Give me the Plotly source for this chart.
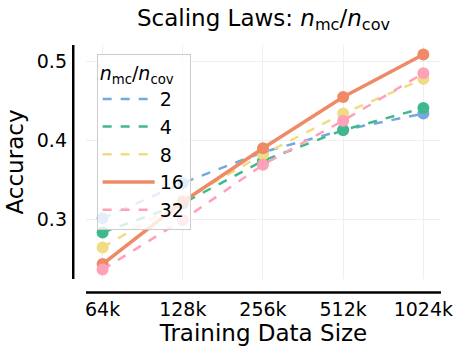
import plotly.graph_objects as go

sizes = ["64k", "128k", "256k", "512k", "1024k"]
ratios = ["2", "4", "8", "16", "32"]
acc_2 = [0.301, 0.346, 0.385, 0.413, 0.434]
acc_4 = [0.283, 0.320, 0.374, 0.413, 0.441]
acc_8 = [0.264, 0.324, 0.382, 0.434, 0.478]
acc_16 = [0.243, 0.322, 0.390, 0.455, 0.509]
acc_32 = [0.236, 0.299, 0.369, 0.425, 0.485]
series = [acc_2, acc_4, acc_8, acc_16, acc_32]
colors = ["#74a9e0", "#3fb98b", "#f0dc82", "#ef8a66", "#ffa2b8"]

fig = go.Figure()
xs = list(range(len(sizes)))
for name, ys, c in zip(ratios, series, colors):
    solid = name == "16"
    line = dict(color=c, width=3.5 if solid else 2.5, dash="solid" if solid else "dash")
    fig.add_trace(go.Scatter(
        x=xs, y=ys, name=name, mode="lines+markers", showlegend=False,
        line=line, marker=dict(color=c, size=12),
    ))
    fig.add_trace(go.Scatter(
        x=[None], y=[None], name=name, mode="lines", line=line, showlegend=True,
    ))

fig.update_layout(
    width=465, height=350,
    margin=dict(l=86, r=15, t=45, b=67),
    paper_bgcolor="white", plot_bgcolor="white",
    font=dict(family="DejaVu Sans", color="black", size=20),
    title=dict(text="Scaling Laws: <i>n</i><sub>mc</sub>/<i>n</i><sub>cov</sub>",
               x=0.5, xref="paper", xanchor="center", y=0.95, yanchor="middle",
               font=dict(size=23)),
    xaxis=dict(range=[-0.207, 4.22], tickvals=xs, ticktext=sizes,
               showgrid=True, gridcolor="#efefef", gridwidth=1, zeroline=False,
               showline=False, ticks="", ticklabelstandoff=17,
               tickfont=dict(size=19),
               title=dict(text="Training Data Size", font=dict(size=23), standoff=2)),
    yaxis=dict(range=[0.224, 0.521], tickvals=[0.3, 0.4, 0.5], ticktext=["0.3", "0.4", "0.5"],
               showgrid=True, gridcolor="#efefef", gridwidth=1, zeroline=False,
               showline=False, ticks="", ticklabelstandoff=18,
               tickfont=dict(size=19),
               title=dict(text="Accuracy", font=dict(size=23), standoff=6)),
    legend=dict(x=0.03, y=0.96, xanchor="left", yanchor="top",
                bgcolor="rgba(255,255,255,0.8)", bordercolor="#cccccc", borderwidth=1,
                font=dict(size=19), tracegroupgap=0,
                title=dict(text="<i>n</i><sub>mc</sub>/<i>n</i><sub>cov</sub>", font=dict(size=19)),
                itemwidth=52),
    showlegend=True,
)

# offset (despined) axis lines
fig.add_shape(type="line", xref="paper", yref="paper", x0=-0.036, x1=-0.036, y0=0.0, y1=1.0,
              line=dict(color="black", width=2.5))
fig.add_shape(type="line", xref="paper", yref="paper", x0=0.0, x1=1.0, y0=-0.058, y1=-0.058,
              line=dict(color="black", width=2.5))

fig.write_html("out.html")
